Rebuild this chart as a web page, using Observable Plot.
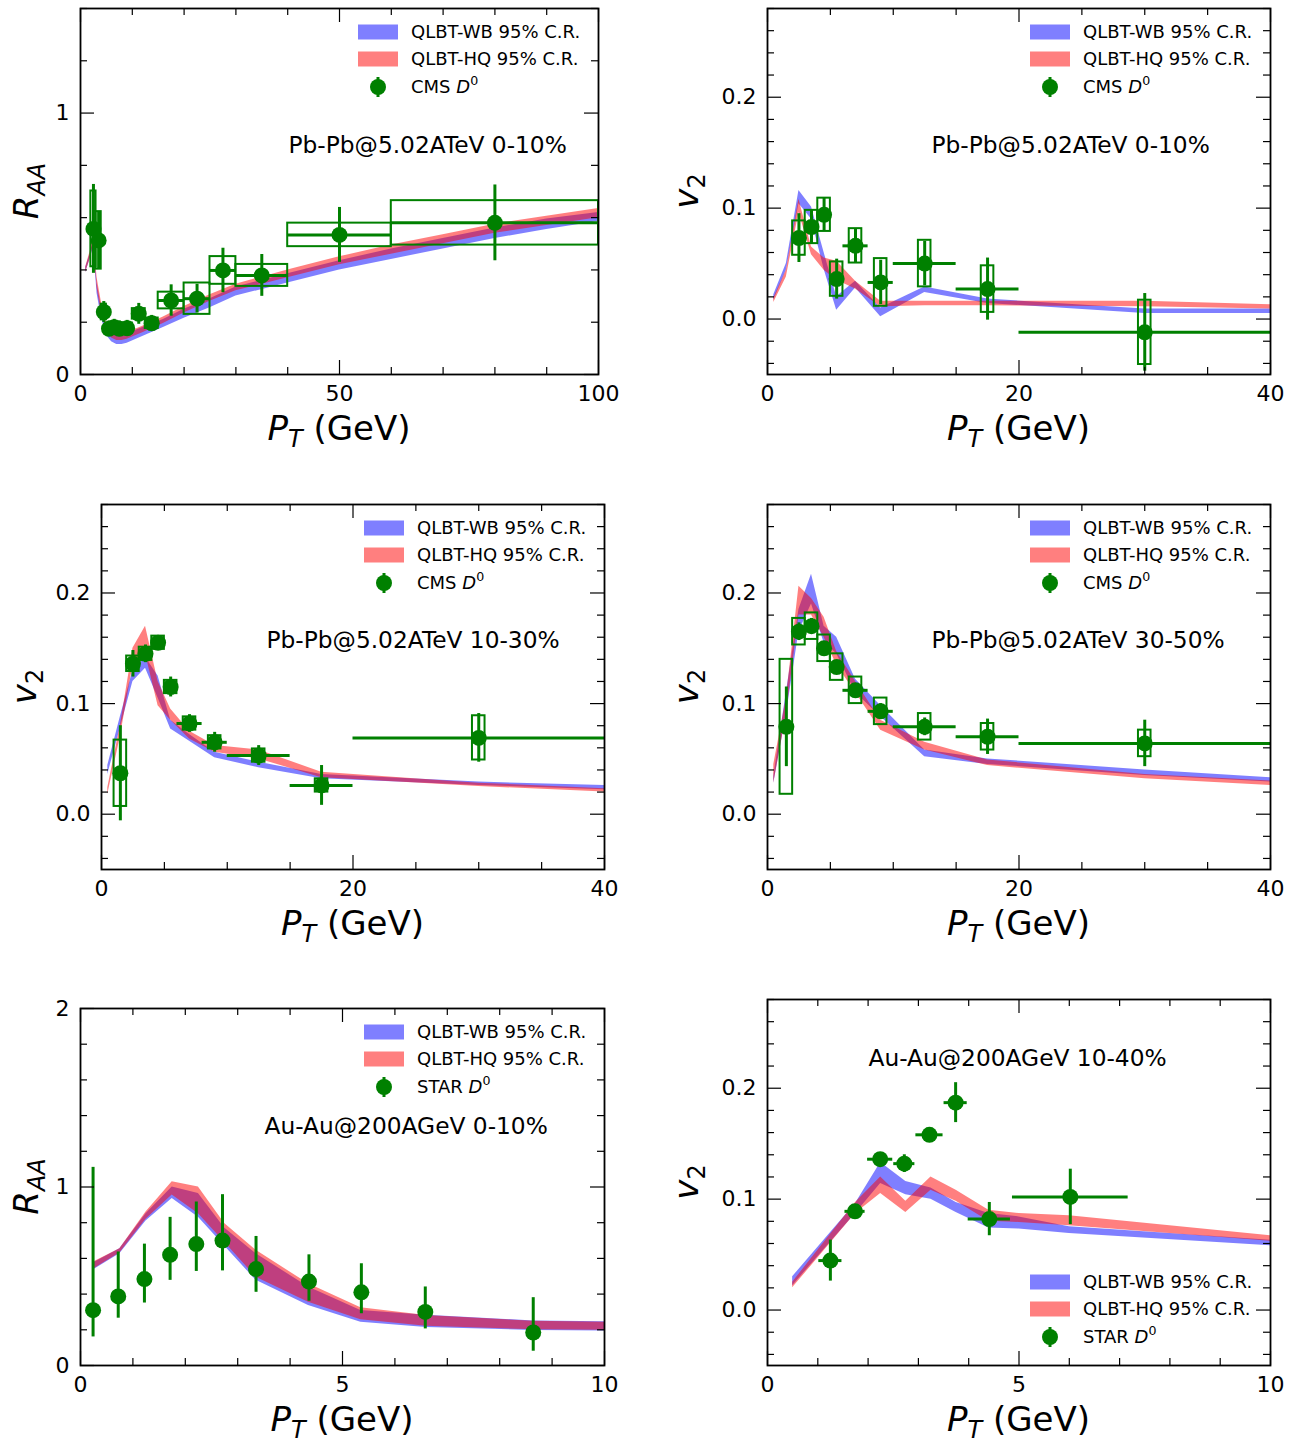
<!DOCTYPE html>
<html>
<head>
<meta charset="utf-8">
<script src="https://cdn.jsdelivr.net/npm/d3@7"></script>
<script src="https://cdn.jsdelivr.net/npm/@observablehq/plot@0.6"></script>
<style>
  body { margin: 0; background: #fff; }
  #fig { position: relative; width: 1296px; height: 1442px; background: #fff; }
  #fig svg { position: absolute; overflow: visible; }
</style>
</head>
<body>
<div id="fig"></div>
<script>
// ---------- Pb-Pb 5.02 TeV 0-10%: R_AA, CMS D0 ----------
const raaPbPt   = [2.5, 3.5, 4.5, 5.5, 6.5, 7.5, 9, 11.25, 13.75, 17.5, 22.5, 27.5, 35, 50, 80];
const raaPbBinLo = [2, 3, 4, 5, 6, 7, 8, 10, 12.5, 15, 20, 25, 30, 40, 60];
const raaPbBinHi = [3, 4, 5, 6, 7, 8, 10, 12.5, 15, 20, 25, 30, 40, 60, 100];
const raaPbVal  = [0.557, 0.513, 0.239, 0.175, 0.181, 0.175, 0.177, 0.232, 0.196, 0.283, 0.29, 0.398, 0.379, 0.534, 0.58];
const raaPbStat = [0.17, 0.11, 0.04, 0.03, 0.03, 0.03, 0.03, 0.04, 0.03, 0.06, 0.055, 0.085, 0.08, 0.105, 0.145];
const raaPbSys  = [0.145, 0.11, 0.03, 0.02, 0.02, 0.02, 0.02, 0.02, 0.02, 0.032, 0.06, 0.053, 0.042, 0.045, 0.085];
// model bands
const raaPbBandPt = [1, 2, 2.5, 3.2, 4, 5, 6, 7, 8, 9, 12, 16, 20, 25, 30, 40, 50, 60, 70, 80, 90, 100];
const raaPbWbLo = [0.39, 0.45, 0.49, 0.31, 0.22, 0.15, 0.125, 0.115, 0.115, 0.12, 0.145, 0.18, 0.215, 0.255, 0.30, 0.35, 0.40, 0.44, 0.48, 0.52, 0.555, 0.585];
const raaPbWbHi = [0.41, 0.47, 0.52, 0.35, 0.26, 0.19, 0.16, 0.15, 0.15, 0.155, 0.18, 0.21, 0.25, 0.29, 0.335, 0.385, 0.435, 0.48, 0.52, 0.56, 0.595, 0.62];
const raaPbHqLo = [0.39, 0.45, 0.50, 0.33, 0.24, 0.17, 0.14, 0.13, 0.13, 0.135, 0.16, 0.195, 0.235, 0.28, 0.32, 0.37, 0.42, 0.46, 0.50, 0.54, 0.57, 0.60];
const raaPbHqHi = [0.41, 0.48, 0.53, 0.37, 0.28, 0.20, 0.165, 0.155, 0.155, 0.16, 0.185, 0.22, 0.26, 0.305, 0.345, 0.40, 0.45, 0.495, 0.535, 0.575, 0.605, 0.635];

// ---------- Pb-Pb 5.02 TeV 0-10%: v2, CMS D0 ----------
const v2c0Pt    = [2.5, 3.5, 4.5, 5.5, 7, 9, 12.5, 17.5, 30];
const v2c0BinLo = [2, 3, 4, 5, 6, 8, 10, 15, 20];
const v2c0BinHi = [3, 4, 5, 6, 8, 10, 15, 20, 40];
const v2c0Val   = [0.073, 0.083, 0.094, 0.036, 0.066, 0.033, 0.050, 0.027, -0.012];
const v2c0Stat  = [0.022, 0.015, 0.015, 0.018, 0.015, 0.02, 0.02, 0.028, 0.035];
const v2c0Sys   = [0.0155, 0.015, 0.015, 0.0155, 0.0155, 0.0215, 0.021, 0.021, 0.029];
const v2c0BandPt = [0.5, 1.5, 2.5, 3.5, 4.5, 5.5, 7, 9, 12.5, 17.5, 30, 40];
const v2c0WbLo = [0.017, 0.044, 0.104, 0.09, 0.045, 0.008, 0.028, 0.002, 0.024, 0.014, 0.005, 0.005];
const v2c0WbHi = [0.022, 0.05, 0.116, 0.101, 0.06, 0.02, 0.034, 0.01, 0.029, 0.018, 0.009, 0.009];
const v2c0HqLo = [0.015, 0.038, 0.096, 0.058, 0.044, 0.035, 0.027, 0.011, 0.012, 0.012, 0.011, 0.009];
const v2c0HqHi = [0.019, 0.044, 0.108, 0.065, 0.055, 0.052, 0.034, 0.016, 0.016, 0.016, 0.016, 0.013];

// ---------- Pb-Pb 5.02 TeV 10-30% / 30-50%: v2, CMS D0 ----------
const v2cmsPt    = [1.5, 2.5, 3.5, 4.5, 5.5, 7, 9, 12.5, 17.5, 30];
const v2cmsBinLo = [1, 2, 3, 4, 5, 6, 8, 10, 15, 20];
const v2cmsBinHi = [2, 3, 4, 5, 6, 8, 10, 15, 20, 40];
const v2c10Val  = [0.037, 0.136, 0.145, 0.155, 0.115, 0.082, 0.065, 0.053, 0.026, 0.069];
const v2c10Stat = [0.043, 0.012, 0.008, 0.006, 0.009, 0.008, 0.009, 0.009, 0.018, 0.022];
const v2c10Sys  = [0.03, 0.007, 0.006, 0.006, 0.006, 0.006, 0.006, 0.006, 0.006, 0.02];
const v2c30Val  = [0.079, 0.165, 0.17, 0.15, 0.133, 0.112, 0.093, 0.079, 0.07, 0.064];
const v2c30Stat = [0.036, 0.008, 0.007, 0.006, 0.006, 0.006, 0.007, 0.008, 0.016, 0.021];
const v2c30Sys  = [0.061, 0.012, 0.012, 0.012, 0.012, 0.012, 0.012, 0.012, 0.012, 0.012];
const v2cmsBandPt = [0.5, 1.5, 2.5, 3.5, 4.5, 5.5, 7, 9, 12.5, 17.5, 30, 40];
const v2c10WbLo = [0.036, 0.078, 0.12, 0.132, 0.105, 0.077, 0.066, 0.051, 0.042, 0.032, 0.026, 0.022];
const v2c10WbHi = [0.044, 0.088, 0.13, 0.142, 0.125, 0.085, 0.072, 0.056, 0.047, 0.036, 0.029, 0.026];
const v2c10HqLo = [0.018, 0.07, 0.135, 0.145, 0.098, 0.085, 0.068, 0.056, 0.05, 0.033, 0.025, 0.02];
const v2c10HqHi = [0.024, 0.08, 0.15, 0.17, 0.12, 0.095, 0.075, 0.062, 0.058, 0.038, 0.028, 0.023];
const v2c30WbLo = [0.028, 0.09, 0.165, 0.19, 0.155, 0.145, 0.11, 0.088, 0.052, 0.045, 0.035, 0.029];
const v2c30WbHi = [0.034, 0.11, 0.185, 0.217, 0.17, 0.16, 0.122, 0.098, 0.058, 0.05, 0.04, 0.033];
const v2c30HqLo = [0.028, 0.09, 0.18, 0.18, 0.16, 0.135, 0.11, 0.076, 0.058, 0.044, 0.032, 0.026];
const v2c30HqHi = [0.045, 0.105, 0.206, 0.195, 0.178, 0.147, 0.12, 0.085, 0.065, 0.049, 0.036, 0.03];

// ---------- Au-Au 200 GeV 0-10%: R_AA, STAR D0 ----------
const raaAuPt  = [0.24, 0.72, 1.22, 1.71, 2.21, 2.71, 3.35, 4.36, 5.36, 6.58, 8.64];
const raaAuVal = [0.31, 0.387, 0.484, 0.62, 0.68, 0.70, 0.54, 0.47, 0.41, 0.30, 0.185];
const raaAuErrLo = [0.16, 0.265, 0.35, 0.477, 0.527, 0.53, 0.41, 0.36, 0.29, 0.205, 0.08];
const raaAuErrHi = [1.11, 0.636, 0.68, 0.83, 0.916, 0.957, 0.723, 0.62, 0.57, 0.44, 0.38];
const raaAuBandPt = [0.25, 0.75, 1.25, 1.75, 2.25, 2.75, 3.35, 4.35, 5.35, 6.6, 8.65, 10];
const raaAuWbLo = [0.536, 0.626, 0.81, 0.935, 0.83, 0.67, 0.477, 0.336, 0.243, 0.213, 0.196, 0.193];
const raaAuWbHi = [0.575, 0.654, 0.85, 1.0, 0.963, 0.77, 0.626, 0.44, 0.308, 0.282, 0.25, 0.245];
const raaAuHqLo = [0.54, 0.63, 0.82, 0.955, 0.85, 0.69, 0.495, 0.355, 0.256, 0.22, 0.2, 0.198];
const raaAuHqHi = [0.58, 0.654, 0.86, 1.03, 1.0, 0.795, 0.645, 0.458, 0.323, 0.28, 0.248, 0.243];

// ---------- Au-Au 200 GeV 10-40%: v2, STAR D0 ----------
const v2AuPt   = [1.25, 1.74, 2.24, 2.72, 3.22, 3.74, 4.41, 6.02];
const v2AuVal  = [0.0446, 0.089, 0.136, 0.132, 0.158, 0.187, 0.082, 0.102];
const v2AuXErr = [0.23, 0.2, 0.25, 0.21, 0.27, 0.23, 0.42, 1.15];
const v2AuYErr = [0.0185, 0.004, 0.005, 0.008, 0.005, 0.018, 0.015, 0.025];
const v2AuBandPt = [0.5, 1.75, 2.25, 2.75, 3.25, 3.75, 4.4, 5, 6, 10];
const v2AuWbLo = [0.022, 0.087, 0.114, 0.104, 0.1, 0.088, 0.074, 0.073, 0.069, 0.058];
const v2AuWbHi = [0.03, 0.096, 0.133, 0.116, 0.11, 0.097, 0.087, 0.084, 0.075, 0.063];
const v2AuHqLo = [0.02, 0.087, 0.105, 0.088, 0.108, 0.098, 0.08, 0.079, 0.076, 0.062];
const v2AuHqHi = [0.025, 0.097, 0.12, 0.098, 0.12, 0.108, 0.09, 0.087, 0.085, 0.067];

// ---------- axis ticks ----------
const ticks100Major = [0, 50, 100];
const ticks100Minor = [10, 20, 30, 40, 60, 70, 80, 90];
const ticks40Major = [0, 20, 40];
const ticks40Minor = [5, 10, 15, 25, 30, 35];
const ticks10Major = [0, 5, 10];
const ticks10Minor = [1, 2, 3, 4, 6, 7, 8, 9];
const raaTopMajor = [0, 1];
const raaTopMinor = [0.2, 0.4, 0.6, 0.8, 1.2, 1.4];
const raaBotMajor = [0, 1, 2];
const raaBotMinor = [0.2, 0.4, 0.6, 0.8, 1.2, 1.4, 1.6, 1.8];
const v2Major = [0, 0.1, 0.2];
const v2Minor = [-0.04, -0.02, 0.02, 0.04, 0.06, 0.08, 0.12, 0.14, 0.16, 0.18, 0.22, 0.24, 0.26, 0.28];

// ---------- styling ----------
const GREEN = "#008000";
const FONT = "'DejaVu Sans', sans-serif";
const CMS_BOX_HALF = 0.5; // fixed-width systematic boxes on v2 panels

const band = (pt, lo, hi) => pt.map((x, i) => ({x, lo: lo[i], hi: hi[i]}));

function cmsTable(pt, binLo, binHi, val, stat, sys, boxBins) {
  return pt.map((x, i) => ({
    x, v: val[i], stat: stat[i], sys: sys[i],
    xlo: binLo[i], xhi: binHi[i],
    bx1: boxBins ? binLo[i] : x - CMS_BOX_HALF,
    bx2: boxBins ? binHi[i] : x + CMS_BOX_HALF
  }));
}

function cmsMarks(rows) {
  return [
    Plot.rect(rows, {x1: "bx1", x2: "bx2", y1: d => d.v - d.sys, y2: d => d.v + d.sys,
      fill: "none", stroke: GREEN, strokeWidth: 2}),
    Plot.ruleY(rows, {y: "v", x1: "xlo", x2: "xhi", stroke: GREEN, strokeWidth: 3}),
    Plot.ruleX(rows, {x: "x", y1: d => d.v - d.stat, y2: d => d.v + d.stat, stroke: GREEN, strokeWidth: 3}),
    Plot.dot(rows, {x: "x", y: "v", r: 8, fill: GREEN, stroke: "none"})
  ];
}

function tickMarks(fw, fh, xMaj, xMin, yMaj, yMin) {
  const st = {stroke: "black", strokeWidth: 1.2};
  const M = 14, m = 7;
  return [
    Plot.tickX(xMaj, {x: d => d, insetTop: fh - M, ...st}),
    Plot.tickX(xMaj, {x: d => d, insetBottom: fh - M, ...st}),
    Plot.tickX(xMin, {x: d => d, insetTop: fh - m, ...st}),
    Plot.tickX(xMin, {x: d => d, insetBottom: fh - m, ...st}),
    Plot.tickY(yMaj, {y: d => d, insetRight: fw - M, ...st}),
    Plot.tickY(yMaj, {y: d => d, insetLeft: fw - M, ...st}),
    Plot.tickY(yMin, {y: d => d, insetRight: fw - m, ...st}),
    Plot.tickY(yMin, {y: d => d, insetLeft: fw - m, ...st})
  ];
}

function addPtLabel(svg, cx, by) {
  const t = d3.select(svg).append("text")
    .attr("x", cx).attr("y", by).attr("text-anchor", "middle")
    .attr("font-family", FONT).attr("font-size", 34).attr("fill", "black")
    .style("white-space", "pre");
  t.append("tspan").attr("font-style", "italic").text("P");
  t.append("tspan").attr("font-style", "italic").attr("font-size", 24).attr("dy", 7).text("T");
  t.append("tspan").attr("dy", -7).text(" (GeV)");
}

function addYLabel(svg, x, cy, kind) {
  const t = d3.select(svg).append("text")
    .attr("transform", `translate(${x},${cy}) rotate(-90)`)
    .attr("text-anchor", "middle")
    .attr("font-family", FONT).attr("font-size", 34).attr("fill", "black");
  if (kind === "raa") {
    t.append("tspan").attr("font-style", "italic").text("R");
    t.append("tspan").attr("font-style", "italic").attr("font-size", 24).attr("dy", 7).text("AA");
  } else {
    t.append("tspan").attr("font-style", "italic").text("v");
    t.append("tspan").attr("font-size", 24).attr("dy", 7).text("2");
  }
}

function addLegend(svg, x0, rowYs, expName) {
  const g = d3.select(svg).append("g")
    .attr("font-family", FONT).attr("font-size", 18).attr("fill", "black")
    .attr("text-anchor", "start");
  const tx = x0 + 53;
  g.append("rect").attr("x", x0).attr("y", rowYs[0] - 7.5).attr("width", 40).attr("height", 15)
    .attr("fill", "blue").attr("fill-opacity", 0.5);
  g.append("text").attr("x", tx).attr("y", rowYs[0]).attr("dy", "0.36em").text("QLBT-WB 95% C.R.");
  g.append("rect").attr("x", x0).attr("y", rowYs[1] - 7.5).attr("width", 40).attr("height", 15)
    .attr("fill", "red").attr("fill-opacity", 0.5);
  g.append("text").attr("x", tx).attr("y", rowYs[1]).attr("dy", "0.36em").text("QLBT-HQ 95% C.R.");
  g.append("line").attr("x1", x0 + 20).attr("x2", x0 + 20)
    .attr("y1", rowYs[2] - 10).attr("y2", rowYs[2] + 10)
    .attr("stroke", GREEN).attr("stroke-width", 3);
  g.append("circle").attr("cx", x0 + 20).attr("cy", rowYs[2]).attr("r", 8).attr("fill", GREEN);
  const t = g.append("text").attr("x", tx).attr("y", rowYs[2]).attr("dy", "0.36em")
    .style("white-space", "pre");
  t.append("tspan").text(expName + " ");
  t.append("tspan").attr("font-style", "italic").text("D");
  t.append("tspan").attr("font-size", 12.6).attr("dy", -8).text("0");
}

function panel(c) {
  const fw = c.width - c.ml - c.mr, fh = c.height - c.mt - c.mb;
  const svg = Plot.plot({
    width: c.width, height: c.height,
    marginLeft: c.ml, marginRight: c.mr, marginTop: c.mt, marginBottom: c.mb,
    style: {fontFamily: FONT, color: "black", background: "transparent", overflow: "visible"},
    x: {domain: c.xDomain},
    y: {domain: c.yDomain},
    marks: [
      Plot.areaY(c.wb, {x: "x", y1: "lo", y2: "hi", fill: "blue", fillOpacity: 0.5, clip: true}),
      Plot.areaY(c.hq, {x: "x", y1: "lo", y2: "hi", fill: "red", fillOpacity: 0.5, clip: true}),
      ...c.dataMarks,
      ...tickMarks(fw, fh, c.xMaj, c.xMin, c.yMaj, c.yMin),
      Plot.frame({stroke: "black", strokeWidth: 1.8}),
      Plot.axisX(c.xMaj, {tickSize: 0, tickPadding: 11, fontSize: 22, label: null, tickFormat: d3.format("d")}),
      Plot.axisY(c.yMaj, {tickSize: 0, tickPadding: 11, fontSize: 22, label: null, tickFormat: c.yFormat}),
      Plot.text([c.note], {frameAnchor: "top-left", dx: c.noteDx, dy: c.noteDy, text: d => d,
        fontSize: 23.3, textAnchor: "start", lineAnchor: "middle", fill: "black"})
    ]
  });
  svg.style.left = c.left + "px";
  svg.style.top = c.top + "px";
  addPtLabel(svg, c.ml + fw / 2, c.mt + fh + 66);
  addYLabel(svg, c.yLabelX, c.mt + fh / 2, c.kind);
  const lx = c.ml + fw - 240;
  const rowsY = c.legendBottom
    ? [c.mt + fh - 83, c.mt + fh - 56, c.mt + fh - 28]
    : [c.mt + 24, c.mt + 51, c.mt + 79];
  addLegend(svg, lx, rowsY, c.exp);
  document.getElementById("fig").appendChild(svg);
}

const v2Fmt = d3.format(".1f");
const intFmt = d3.format("d");

// Pb-Pb R_AA 0-10%
panel({
  left: 0, top: 0, width: 640, height: 460, ml: 80, mr: 42, mt: 8, mb: 86,
  xDomain: [0, 100], yDomain: [0, 1.4],
  xMaj: ticks100Major, xMin: ticks100Minor, yMaj: raaTopMajor, yMin: raaTopMinor, yFormat: intFmt,
  wb: band(raaPbBandPt, raaPbWbLo, raaPbWbHi), hq: band(raaPbBandPt, raaPbHqLo, raaPbHqHi),
  dataMarks: cmsMarks(cmsTable(raaPbPt, raaPbBinLo, raaPbBinHi, raaPbVal, raaPbStat, raaPbSys, true)),
  note: "Pb-Pb@5.02ATeV 0-10%", noteDx: 208, noteDy: 137,
  kind: "raa", yLabelX: 38, exp: "CMS"
});

// Pb-Pb v2 0-10%
panel({
  left: 660, top: 0, width: 636, height: 460, ml: 107, mr: 26, mt: 8, mb: 86,
  xDomain: [0, 40], yDomain: [-0.05, 0.28],
  xMaj: ticks40Major, xMin: ticks40Minor, yMaj: v2Major, yMin: v2Minor, yFormat: v2Fmt,
  wb: band(v2c0BandPt, v2c0WbLo, v2c0WbHi), hq: band(v2c0BandPt, v2c0HqLo, v2c0HqHi),
  dataMarks: cmsMarks(cmsTable(v2c0Pt, v2c0BinLo, v2c0BinHi, v2c0Val, v2c0Stat, v2c0Sys, false)),
  note: "Pb-Pb@5.02ATeV 0-10%", noteDx: 164, noteDy: 137,
  kind: "v2", yLabelX: 38, exp: "CMS"
});

// Pb-Pb v2 10-30%
panel({
  left: 0, top: 490, width: 640, height: 460, ml: 101, mr: 36, mt: 14, mb: 81,
  xDomain: [0, 40], yDomain: [-0.05, 0.28],
  xMaj: ticks40Major, xMin: ticks40Minor, yMaj: v2Major, yMin: v2Minor, yFormat: v2Fmt,
  wb: band(v2cmsBandPt, v2c10WbLo, v2c10WbHi), hq: band(v2cmsBandPt, v2c10HqLo, v2c10HqHi),
  dataMarks: cmsMarks(cmsTable(v2cmsPt, v2cmsBinLo, v2cmsBinHi, v2c10Val, v2c10Stat, v2c10Sys, false)),
  note: "Pb-Pb@5.02ATeV 10-30%", noteDx: 165, noteDy: 136,
  kind: "v2", yLabelX: 36, exp: "CMS"
});

// Pb-Pb v2 30-50%
panel({
  left: 660, top: 490, width: 636, height: 460, ml: 107, mr: 26, mt: 14, mb: 81,
  xDomain: [0, 40], yDomain: [-0.05, 0.28],
  xMaj: ticks40Major, xMin: ticks40Minor, yMaj: v2Major, yMin: v2Minor, yFormat: v2Fmt,
  wb: band(v2cmsBandPt, v2c30WbLo, v2c30WbHi), hq: band(v2cmsBandPt, v2c30HqLo, v2c30HqHi),
  dataMarks: cmsMarks(cmsTable(v2cmsPt, v2cmsBinLo, v2cmsBinHi, v2c30Val, v2c30Stat, v2c30Sys, false)),
  note: "Pb-Pb@5.02ATeV 30-50%", noteDx: 164, noteDy: 136,
  kind: "v2", yLabelX: 38, exp: "CMS"
});

// Au-Au R_AA 0-10%
const raaAuRows = raaAuPt.map((x, i) => ({x, v: raaAuVal[i], lo: raaAuErrLo[i], hi: raaAuErrHi[i]}));
panel({
  left: 0, top: 990, width: 640, height: 452, ml: 80, mr: 36, mt: 18, mb: 77,
  xDomain: [0, 10], yDomain: [0, 2],
  xMaj: ticks10Major, xMin: ticks10Minor, yMaj: raaBotMajor, yMin: raaBotMinor, yFormat: intFmt,
  wb: band(raaAuBandPt, raaAuWbLo, raaAuWbHi), hq: band(raaAuBandPt, raaAuHqLo, raaAuHqHi),
  dataMarks: [
    Plot.ruleX(raaAuRows, {x: "x", y1: "lo", y2: "hi", stroke: GREEN, strokeWidth: 3}),
    Plot.dot(raaAuRows, {x: "x", y: "v", r: 8, fill: GREEN, stroke: "none"})
  ],
  note: "Au-Au@200AGeV 0-10%", noteDx: 184, noteDy: 118,
  kind: "raa", yLabelX: 38, exp: "STAR"
});

// Au-Au v2 10-40%
const v2AuRows = v2AuPt.map((x, i) => ({x, v: v2AuVal[i], xe: v2AuXErr[i], ye: v2AuYErr[i]}));
panel({
  left: 660, top: 990, width: 636, height: 452, ml: 107, mr: 26, mt: 9, mb: 77,
  xDomain: [0, 10], yDomain: [-0.05, 0.28],
  xMaj: ticks10Major, xMin: ticks10Minor, yMaj: v2Major, yMin: v2Minor, yFormat: v2Fmt,
  wb: band(v2AuBandPt, v2AuWbLo, v2AuWbHi), hq: band(v2AuBandPt, v2AuHqLo, v2AuHqHi),
  dataMarks: [
    Plot.ruleY(v2AuRows, {y: "v", x1: d => d.x - d.xe, x2: d => d.x + d.xe, stroke: GREEN, strokeWidth: 3}),
    Plot.ruleX(v2AuRows, {x: "x", y1: d => d.v - d.ye, y2: d => d.v + d.ye, stroke: GREEN, strokeWidth: 3}),
    Plot.dot(v2AuRows, {x: "x", y: "v", r: 8, fill: GREEN, stroke: "none"})
  ],
  note: "Au-Au@200AGeV 10-40%", noteDx: 101, noteDy: 59,
  kind: "v2", yLabelX: 38, exp: "STAR", legendBottom: true
});
</script>
</body>
</html>
